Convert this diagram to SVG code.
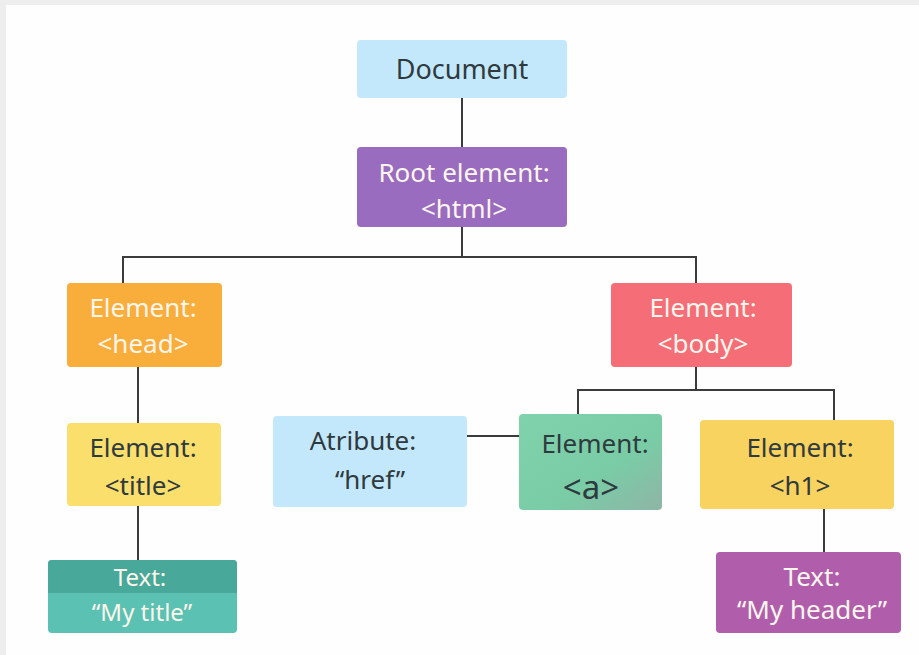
<svg xmlns="http://www.w3.org/2000/svg" width="919" height="655" viewBox="0 0 919 655">
<defs>
<style>
.t{font-family:"Noto Sans","Open Sans","DejaVu Sans",sans-serif;font-size:26px;text-anchor:middle}
.s{font-size:24px}
.w{fill:#fdf6ec}
.d{fill:#2f3a3e}
.c{stroke:#3b3b3b;stroke-width:2;fill:none}
</style>
<linearGradient id="ga" x1="0" y1="0" x2="1" y2="1">
<stop offset="0" stop-color="#7fd2ab"/><stop offset="0.6" stop-color="#79cca6"/><stop offset="1" stop-color="#8fb5a6"/>
</linearGradient>
</defs>
<rect x="0" y="0" width="919" height="655" fill="#eeeeee"/>
<rect x="6" y="5" width="913" height="650" fill="#fefefe"/>
<g id="connectors" class="c">
<line x1="462" y1="98" x2="462" y2="147"/>
<polyline points="462,227 462,257"/>
<polyline points="123,283 123,257 696,257 696,283"/>
<line x1="138" y1="367" x2="138" y2="423"/>
<line x1="138" y1="506" x2="138" y2="560"/>
<polyline points="578,414 578,390 834,390 834,420"/>
<line x1="696" y1="367" x2="696" y2="390"/>
<line x1="467" y1="436" x2="519" y2="436"/>
<line x1="824" y1="509" x2="824" y2="552"/>
</g>
<g id="document">
<rect x="357" y="40" width="210" height="58" rx="4" fill="#c4e8fb"/>
<text class="t d" x="462" y="79" style="font-size:27px">Document</text>
</g>
<g id="root">
<rect x="357" y="147" width="210" height="80" rx="4" fill="#9a6cbf"/>
<text class="t w" x="464" y="182">Root element:</text>
<text class="t w" x="464" y="218">&lt;html&gt;</text>
</g>
<g id="head">
<rect x="67" y="283" width="155" height="84" rx="4" fill="#f9ad3a"/>
<text class="t w" x="143" y="317">Element:</text>
<text class="t w" x="143" y="353">&lt;head&gt;</text>
</g>
<g id="body">
<rect x="611" y="283" width="181" height="84" rx="4" fill="#f46d77"/>
<text class="t w" x="703" y="317">Element:</text>
<text class="t w" x="703" y="353">&lt;body&gt;</text>
</g>
<g id="title">
<rect x="67" y="423" width="154" height="83" rx="4" fill="#fbdf6c"/>
<text class="t d" x="143" y="457">Element:</text>
<text class="t d" x="143" y="495">&lt;title&gt;</text>
</g>
<g id="mytitle">
<rect x="48" y="560" width="189" height="73" rx="4" fill="#5bc1b3"/>
<path d="M52,560 H233 A4,4 0 0 1 237,564 V593 H48 V564 A4,4 0 0 1 52,560 Z" fill="#48a899"/>
<text class="t s w" x="140" y="586">Text:</text>
<text class="t s w" x="142" y="621">“My title”</text>
</g>
<g id="attribute">
<rect x="273" y="416" width="194" height="91" rx="4" fill="#c4e8fb"/>
<text class="t d" x="363" y="450">Atribute:</text>
<text class="t d" x="370" y="489">“href”</text>
</g>
<g id="a">
<rect x="519" y="414" width="143" height="96" rx="4" fill="url(#ga)"/>
<text class="t d" x="595" y="453">Element:</text>
<text class="t d" x="591" y="499" style="font-size:33px">&lt;a&gt;</text>
</g>
<g id="h1">
<rect x="700" y="420" width="194" height="89" rx="4" fill="#f9d35f"/>
<text class="t d" x="800" y="457">Element:</text>
<text class="t d" x="800" y="495">&lt;h1&gt;</text>
</g>
<g id="myheader">
<rect x="716" y="552" width="185" height="81" rx="4" fill="#b05eac"/>
<text class="t w" x="812" y="586">Text:</text>
<text class="t w" x="812" y="619">“My header”</text>
</g>
</svg>
